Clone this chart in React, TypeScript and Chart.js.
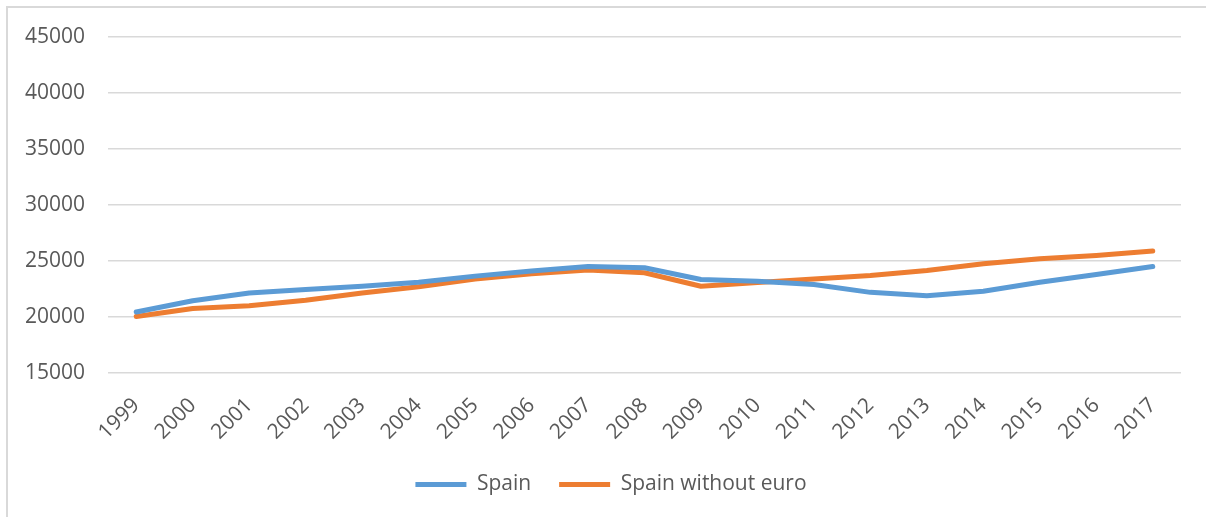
import React, { useEffect, useRef } from "react";
import { Chart, registerables } from "chart.js";

Chart.register(...registerables);

const years = ["1999","2000","2001","2002","2003","2004","2005","2006","2007","2008","2009","2010","2011","2012","2013","2014","2015","2016","2017"];
const spain = [20450, 21450, 22150, 22450, 22750, 23100, 23650, 24100, 24500, 24400, 23350, 23200, 22900, 22200, 21900, 22300, 23100, 23800, 24500];
const spainWithoutEuro = [20050, 20750, 21000, 21500, 22150, 22700, 23400, 23850, 24200, 23950, 22750, 23080, 23400, 23700, 24150, 24750, 25200, 25500, 25900];
const yMin = 15000;
const yMax = 45000;
const yStep = 5000;

const FONT = "'Open Sans', 'Noto Sans', sans-serif";
const TEXT = "#595959";

export default function App() {
  const ref = useRef<HTMLCanvasElement | null>(null);
  useEffect(() => {
    if (!ref.current) return;
    const chart = new Chart(ref.current, {
      type: "line",
      data: {
        labels: years,
        datasets: [
          { label: "Spain", data: spain, borderColor: "#5B9BD5", backgroundColor: "#5B9BD5", borderWidth: 5, pointRadius: 0, tension: 0, borderCapStyle: "round", borderJoinStyle: "round" },
          { label: "Spain without euro", data: spainWithoutEuro, borderColor: "#ED7D31", backgroundColor: "#ED7D31", borderWidth: 5, pointRadius: 0, tension: 0, borderCapStyle: "round", borderJoinStyle: "round" },
        ],
      },
      options: {
        responsive: false,
        animation: false,
        devicePixelRatio: 1,
        layout: { padding: { left: 16, right: 0, top: 37, bottom: 12 } },
        plugins: {
          tooltip: { enabled: false },
          legend: {
            position: "bottom",
            labels: {
              usePointStyle: true,
              pointStyle: "line",
              pointStyleWidth: 51,
              padding: 28,
              color: TEXT,
              font: { family: FONT, size: 21 },
            },
          },
        },
        scales: {
          x: {
            offset: true,
            grid: { display: false },
            border: { display: false },
            ticks: { color: TEXT, font: { family: FONT, size: 21 }, maxRotation: 45, minRotation: 45, padding: 12, autoSkip: false },
            afterFit: (s: any) => { s.height = 73; },
          },
          y: {
            min: yMin,
            max: yMax,
            grid: { color: "#d9d9d9", lineWidth: 1.5, drawTicks: false },
            border: { display: false },
            ticks: { stepSize: yStep, color: TEXT, font: { family: FONT, size: 21 }, padding: 23, callback: (v: any) => String(v) },
            afterFit: (s: any) => { s.width = 92; },
          },
          yRight: {
            type: "linear",
            position: "right",
            display: true,
            grid: { display: false, drawTicks: false },
            border: { display: false },
            ticks: { display: false },
            afterFit: (s: any) => { s.width = 25; },
          },
        },
      },
    });
    return () => chart.destroy();
  }, []);
  return (
    <div style={{ position: "absolute", left: 0, top: 0, width: 1206, height: 517, overflow: "hidden", background: "#fff" }}>
      <div style={{ position: "absolute", left: 6, top: 6, width: 1300, height: 600, border: "2px solid #d9d9d9" }} />
      <canvas ref={ref} width={1206} height={517} style={{ position: "absolute", left: 0, top: 0, width: 1206, height: 517 }} />
    </div>
  );
}
